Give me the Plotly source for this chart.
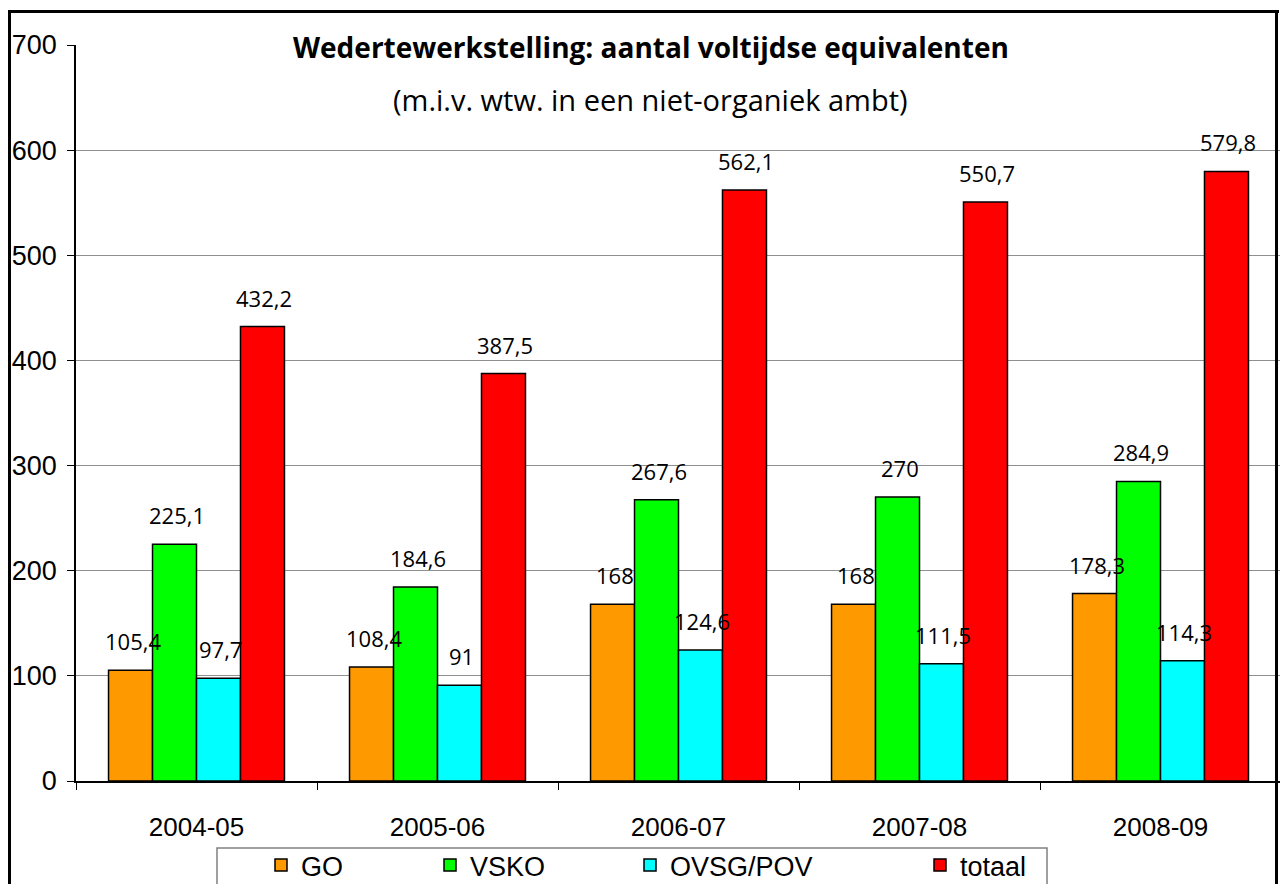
import plotly.graph_objects as go

categories = ["2004-05", "2005-06", "2006-07", "2007-08", "2008-09"]
go_vals = [105.4, 108.4, 168, 168, 178.3]
vsko_vals = [225.1, 184.6, 267.6, 270, 284.9]
ovsg_vals = [97.7, 91, 124.6, 111.5, 114.3]
totaal_vals = [432.2, 387.5, 562.1, 550.7, 579.8]

series_names = ["GO", "VSKO", "OVSG/POV", "totaal"]
series_vals = [go_vals, vsko_vals, ovsg_vals, totaal_vals]
series_colors = ["#FF9900", "#00FF00", "#00FFFF", "#FF0000"]

y_ticks = [0, 100, 200, 300, 400, 500, 600, 700]


def fmt(v):
    return f"{v:g}".replace(".", ",")


# page body has an 8px margin: work in screen pixels and subtract it
OFF = 8
W, H = 1288 - OFF, 884 - OFF
L, R, T, B = 76 - OFF, 1281 - OFF, 45 - OFF, 781 - OFF
pw, ph = R - L, B - T
BARGAP = 0.27
cat_px = pw / len(categories)
bar_px = cat_px * (1 - BARGAP) / len(series_names)


def px(x):
    return (x - OFF - L) / pw


def py(y):
    return (B - (y - OFF)) / ph


legend_ids = ["legend", "legend2", "legend3", "legend4"]
legend_left_px = [261, 430, 630, 920]

fig = go.Figure()
annotations = []
for i, (name, vals, col) in enumerate(zip(series_names, series_vals, series_colors)):
    fig.add_trace(go.Bar(
        x=categories, y=vals, name=name,
        marker=dict(color=col, line=dict(color="black", width=1.5)),
        legend=legend_ids[i],
    ))
    shift = (i - (len(series_names) - 1) / 2) * bar_px
    for c, v in zip(categories, vals):
        annotations.append(dict(
            text=fmt(v), x=c, y=v, xref="x", yref="y",
            xanchor="center", yanchor="bottom", showarrow=False,
            xshift=shift + 2, yshift=12,
            font=dict(family="Open Sans", size=22, color="black"),
        ))

annotations += [
    dict(text="<b>Wedertewerkstelling: aantal voltijdse equivalenten</b>",
         x=px(651), y=py(47), xref="paper", yref="paper",
         xanchor="center", yanchor="middle", showarrow=False,
         font=dict(family="Open Sans", size=28, color="black")),
    dict(text="(m.i.v. wtw. in een niet-organiek ambt)",
         x=px(650), y=py(100), xref="paper", yref="paper",
         xanchor="center", yanchor="middle", showarrow=False,
         font=dict(family="Open Sans", size=29, color="black")),
]

legend_layouts = {}
for lid, lx in zip(legend_ids, legend_left_px):
    legend_layouts[lid] = dict(
        orientation="h", x=px(lx), xanchor="left", y=py(841), yanchor="top",
        bgcolor="rgba(0,0,0,0)", borderwidth=0,
        font=dict(family="Liberation Sans", size=27, color="black"),
    )

# outer frame drawn as thin filled bars
frame = [
    dict(type="rect", xref="paper", yref="paper",
         x0=px(8), x1=px(1279), y0=py(13), y1=py(10),
         fillcolor="black", line=dict(width=0), layer="above"),
    dict(type="rect", xref="paper", yref="paper",
         x0=px(8), x1=px(11), y0=py(900), y1=py(10),
         fillcolor="black", line=dict(width=0), layer="above"),
    dict(type="rect", xref="paper", yref="paper",
         x0=px(1275), x1=px(1278), y0=py(900), y1=py(10),
         fillcolor="black", line=dict(width=0), layer="above"),
]

fig.update_layout(
    width=W, height=H,
    margin=dict(l=L, r=W - R, t=T, b=H - B, pad=0, autoexpand=False),
    paper_bgcolor="white", plot_bgcolor="white",
    barmode="group", bargap=BARGAP, bargroupgap=0,
    font=dict(family="Liberation Sans", color="black"),
    showlegend=True,
    xaxis=dict(
        type="category",
        showline=True, linecolor="black", linewidth=1.5,
        ticks="outside", ticklen=7, tickcolor="black", tickson="boundaries",
        tickfont=dict(family="Liberation Sans", size=26),
        ticklabelstandoff=22,
        showgrid=False, automargin=False,
    ),
    yaxis=dict(
        range=[0, 700], tickvals=y_ticks,
        showline=True, linecolor="black", linewidth=1.5,
        ticks="outside", ticklen=7, tickcolor="black",
        tickfont=dict(family="Liberation Sans", size=27),
        ticklabelstandoff=5,
        showgrid=True, gridcolor="#909090", gridwidth=1,
        zeroline=False, automargin=False,
    ),
    annotations=annotations,
    shapes=[
        dict(type="rect", xref="paper", yref="paper",
             x0=px(217), x1=px(1047), y0=py(900), y1=py(848),
             line=dict(color="#808080", width=1.5), fillcolor="white",
             layer="below"),
    ] + frame,
    **legend_layouts,
)

fig.write_html("out.html")
